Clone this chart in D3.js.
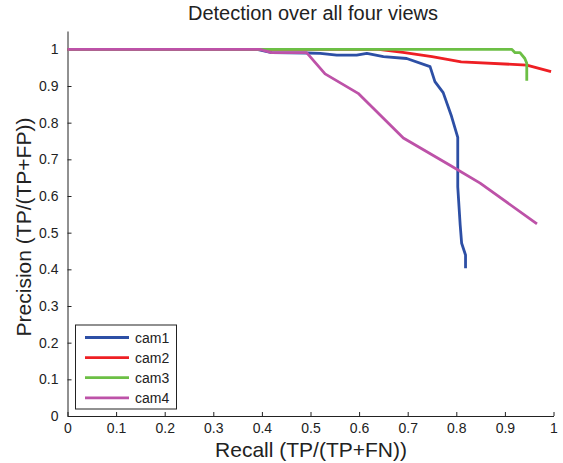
<!DOCTYPE html>
<html>
<head>
<meta charset="utf-8">
<script src="https://cdn.jsdelivr.net/npm/d3@7"></script>
<style>
  body { margin: 0; background: #fff; }
  text { font-family: "Liberation Sans", Arial, sans-serif; fill: #222; }
</style>
</head>
<body>
<div id="chart"></div>
<script>
// Series: [recall, precision]
const cam1 = [[0,1],[0.39,1],[0.42,0.991],[0.492,0.99],[0.52,0.989],[0.554,0.984],[0.595,0.984],
  [0.616,0.989],[0.65,0.98],[0.698,0.975],[0.746,0.953],[0.756,0.912],[0.773,0.882],[0.79,0.818],
  [0.803,0.76],[0.803,0.625],[0.808,0.521],[0.811,0.471],[0.819,0.439],[0.819,0.403]];
const cam2 = [[0,1],[0.64,1],[0.69,0.992],[0.75,0.98],[0.81,0.966],[0.945,0.957],[0.995,0.939]];
const cam3 = [[0,1],[0.914,1],[0.921,0.991],[0.931,0.991],[0.941,0.975],[0.945,0.962],[0.945,0.914]];
const cam4 = [[0,1],[0.396,1],[0.42,0.991],[0.492,0.991],[0.53,0.933],[0.598,0.88],[0.691,0.758],
  [0.787,0.684],[0.849,0.635],[0.966,0.524]];

const seriesNames = ["cam1", "cam2", "cam3", "cam4"];
const seriesData = [cam1, cam2, cam3, cam4];
const colors = ["#2d4fa5", "#ee1f24", "#6cbf45", "#bd52a8"];
const xTicks = [0, 0.1, 0.2, 0.3, 0.4, 0.5, 0.6, 0.7, 0.8, 0.9, 1];
const yTicks = [0, 0.1, 0.2, 0.3, 0.4, 0.5, 0.6, 0.7, 0.8, 0.9, 1];

const W = 563, H = 463;
const svg = d3.select("#chart").append("svg")
  .attr("width", W).attr("height", H);

const x = d3.scaleLinear().domain([0, 1]).range([67.5, 553.5]);
const y = d3.scaleLinear().domain([0, 1.05]).range([416, 31]);

const fmt = d => d === 0 ? "0" : d === 1 ? "1" : d3.format(".1f")(d);

// X axis (ticks pointing inward)
svg.append("g")
  .attr("transform", "translate(0," + y(0) + ")")
  .call(d3.axisBottom(x).tickValues(xTicks).tickFormat(fmt).tickSizeInner(-4).tickSizeOuter(0).tickPadding(7))
  .call(g => g.selectAll("line, path").attr("stroke", "#222"))
  .call(g => g.selectAll("text").attr("font-size", 14).attr("font-family", "Liberation Sans, Arial, sans-serif").attr("fill", "#222"));

// Y axis
svg.append("g")
  .attr("transform", "translate(" + x(0) + ",0)")
  .call(d3.axisLeft(y).tickValues(yTicks).tickFormat(fmt).tickSizeInner(-4).tickSizeOuter(0).tickPadding(9))
  .call(g => g.selectAll("line, path").attr("stroke", "#222"))
  .call(g => g.selectAll("text").attr("font-size", 14).attr("font-family", "Liberation Sans, Arial, sans-serif").attr("fill", "#222"));

// Lines
const line = d3.line().x(d => x(d[0])).y(d => y(d[1]));
seriesData.forEach((s, i) => {
  svg.append("path")
    .datum(s)
    .attr("d", line)
    .attr("fill", "none")
    .attr("stroke", colors[i])
    .attr("stroke-width", 2.8)
    .attr("stroke-linejoin", "round");
});

// Title and labels
svg.append("text").attr("x", 313).attr("y", 20).attr("text-anchor", "middle")
  .attr("font-size", 20).text("Detection over all four views");
svg.append("text").attr("x", 311).attr("y", 457).attr("text-anchor", "middle")
  .attr("font-size", 21).text("Recall (TP/(TP+FN))");
svg.append("text").attr("transform", "translate(31,227) rotate(-90)").attr("text-anchor", "middle")
  .attr("font-size", 21).text("Precision (TP/(TP+FP))");

// Legend
const lg = svg.append("g");
lg.append("rect").attr("x", 75.5).attr("y", 325).attr("width", 101).attr("height", 84)
  .attr("fill", "#fff").attr("stroke", "#222").attr("stroke-width", 1);
seriesNames.forEach((n, i) => {
  const yy = 337.5 + i * 20.1;
  lg.append("line").attr("x1", 85).attr("x2", 129).attr("y1", yy).attr("y2", yy)
    .attr("stroke", colors[i]).attr("stroke-width", 2.8);
  lg.append("text").attr("x", 135).attr("y", yy + 5).attr("font-size", 14).text(n);
});
</script>
</body>
</html>
